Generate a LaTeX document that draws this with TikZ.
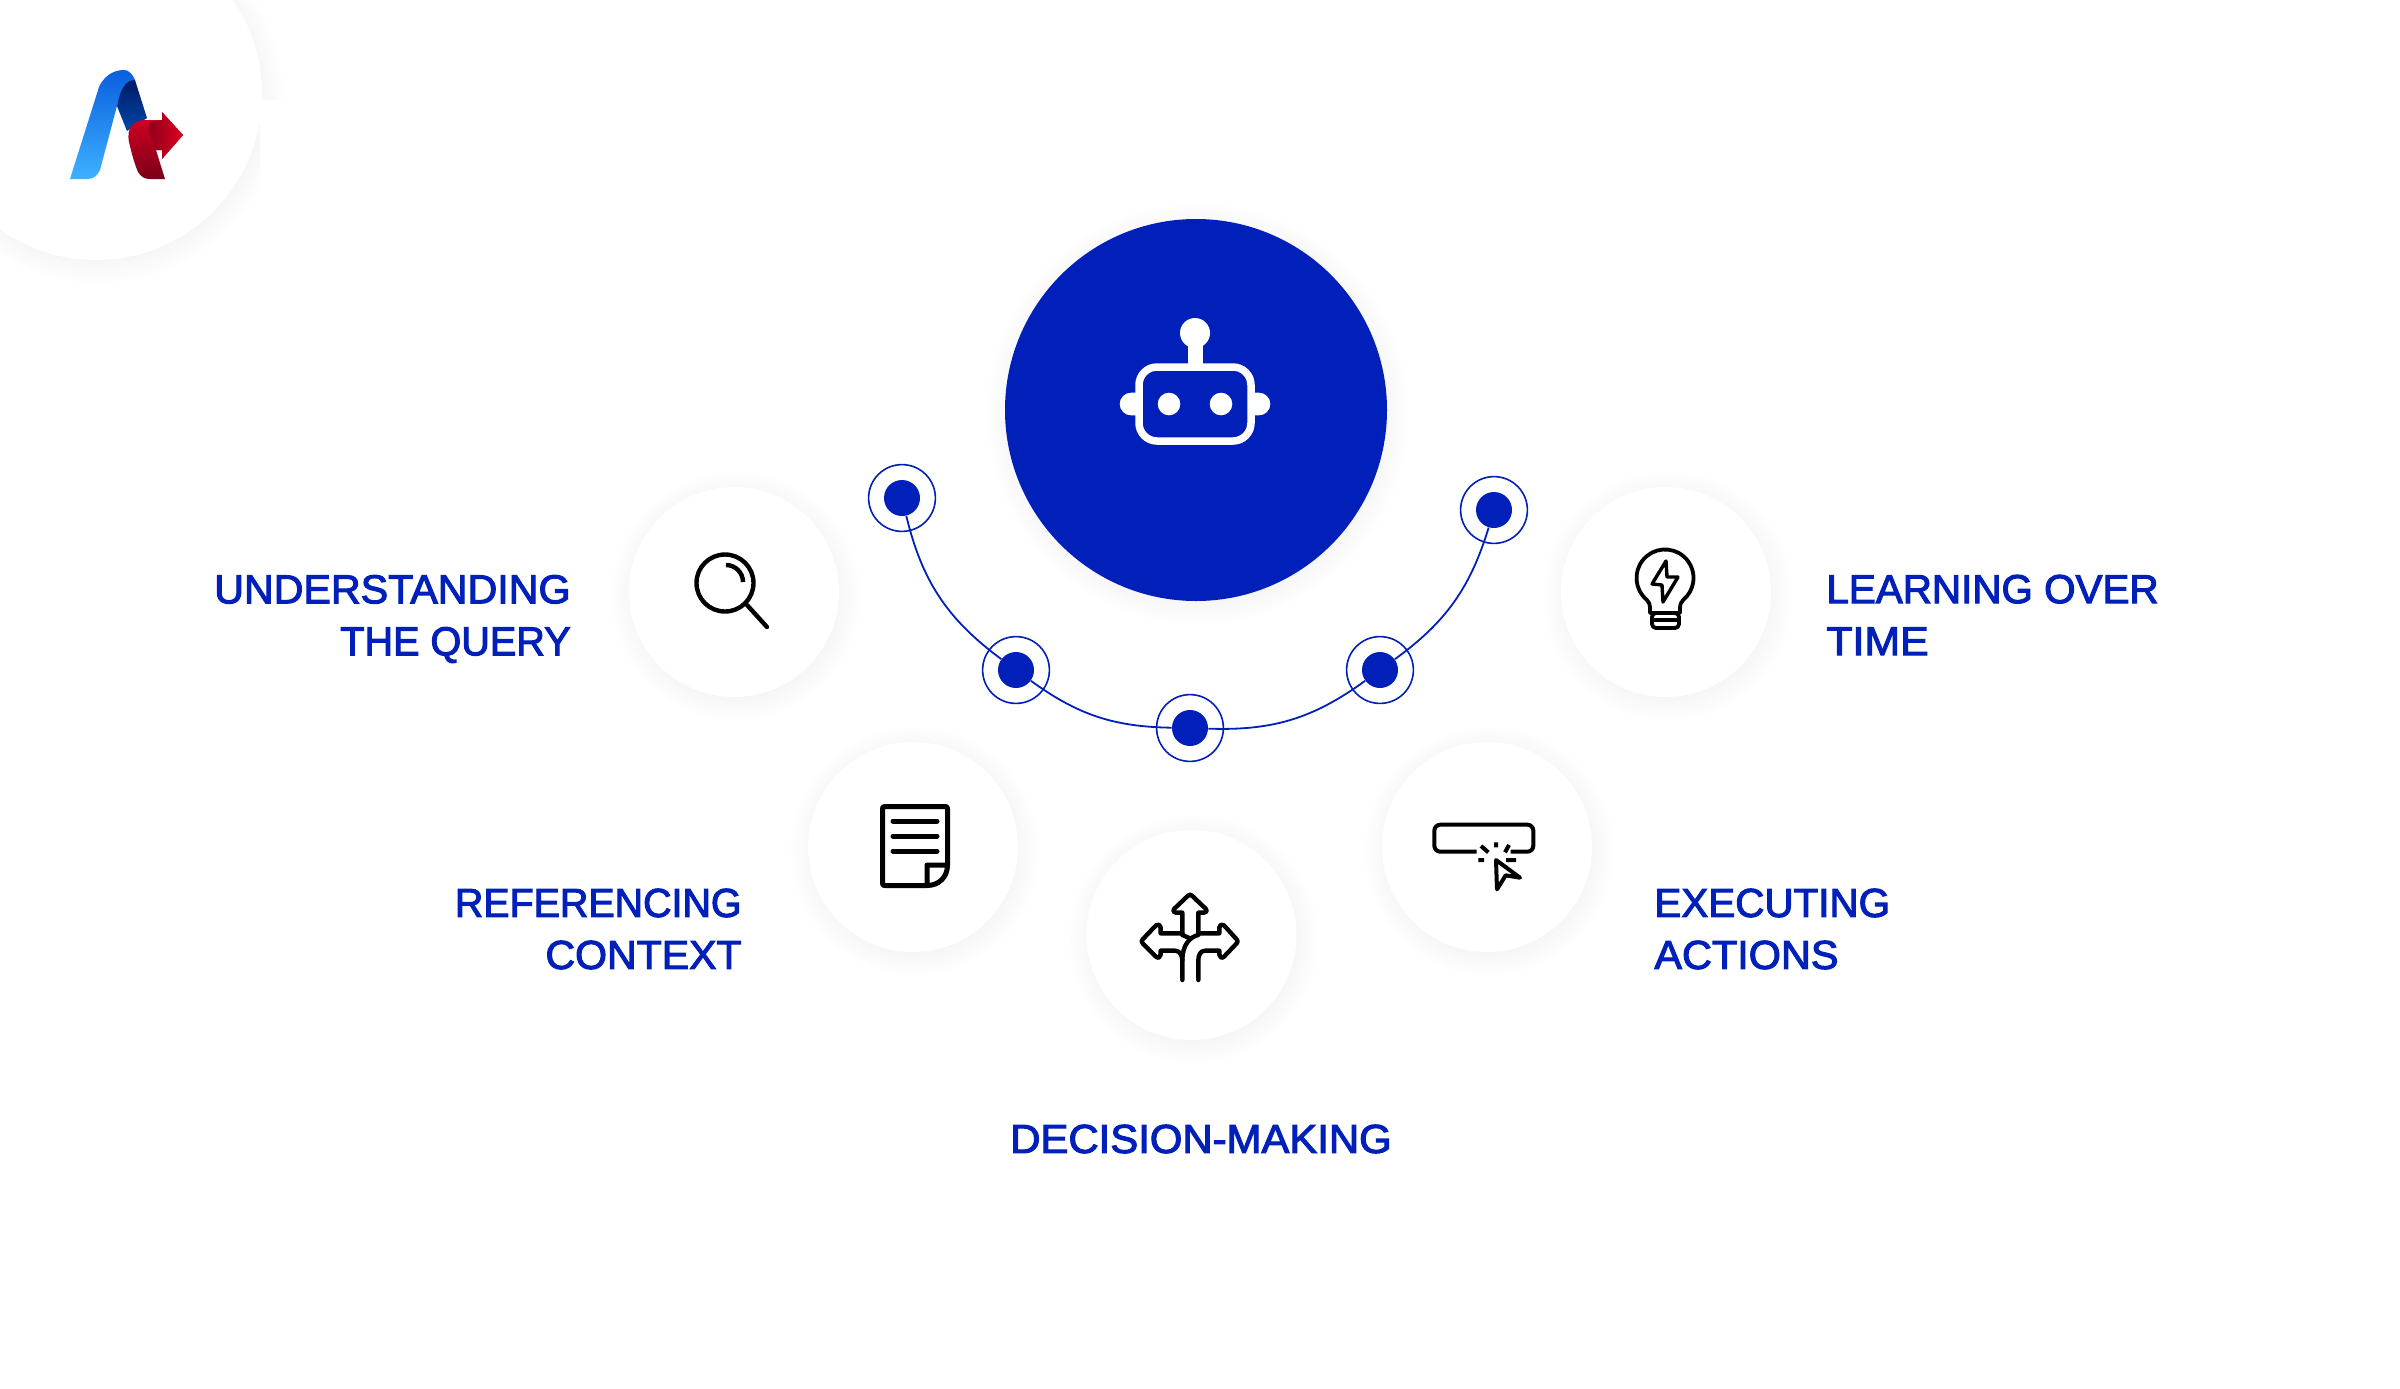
\documentclass[tikz,border=0pt]{standalone}
\usepackage{graphicx}
\usepackage{fontspec}
\setmainfont{Liberation Sans}
\newfontfamily\labelfont[FakeBold=2.6]{Liberation Sans}
\usetikzlibrary{calc}
\definecolor{brandblue}{HTML}{0120B9}
\definecolor{logoA}{HTML}{3DB2FF}
\definecolor{logoB}{HTML}{0A5EDF}
\definecolor{logoC}{HTML}{0047A8}
\definecolor{logoD}{HTML}{001A66}
\definecolor{logoE}{HTML}{7A0018}
\definecolor{logoF}{HTML}{DA0024}
\definecolor{logoG}{HTML}{8A0018}
\definecolor{logoH}{HTML}{E00024}
\tikzset{
  whitedisc/.style={circle,fill=white,minimum size=105pt,inner sep=0pt},
  maindisc/.style={circle,fill=brandblue,minimum size=191pt,inner sep=0pt},
  dotnode/.style={circle,fill=brandblue,minimum size=18pt,inner sep=0pt},
  ringnode/.style={circle,draw=brandblue,line width=0.8pt,minimum size=33.4pt,inner sep=0pt},
  link/.style={draw=brandblue,line width=0.9pt},
  caption/.style={text=brandblue,font=\labelfont\fontsize{20.2}{26}\selectfont,inner sep=0pt},
  icon/.style={draw=black,line width=2.2pt,line cap=round,line join=round},
  thinicon/.style={draw=black,line width=1.9pt,line cap=round,line join=round},
}
% soft shadow: #1 centre, #2 radius
\newcommand{\softshadow}[2]{%
  \foreach \i in {0,...,15}{\fill[black,opacity=0.0055] ($(#1)+(2,4)$) circle ({#2+20-2.8*\i});}%
}
\newcommand{\xs}[2]{\scalebox{#1}[1]{#2}}
\begin{document}
\begin{tikzpicture}[x=0.5pt,y=-0.5pt]
\useasboundingbox (0,0) rectangle (2400,1388);
\fill[white] (0,0) rectangle (2400,1388);
% logo disc shadow with its cut-off edge
\begin{scope}
\clip (0,0) -- (300,0) -- (300,100) -- (260,100) -- (260,400) -- (0,400) -- cycle;
\softshadow{96,94}{166}
\end{scope}
\node[circle,fill=white,minimum size=166pt,inner sep=0pt] (logodisc) at (96,94) {};
% logo
\shade[bottom color=logoA,top color=logoB]
  (70,179) -- (99,87) .. controls (106,72) and (118,70) .. (124,70)
  .. controls (128,70) and (132,73) .. (135,80)
  .. controls (125,82) and (120,95) .. (117,106) -- (100,170) .. controls (97,176) and (93,179) .. (88,179) -- cycle;
\shade[bottom color=logoC,top color=logoD]
  (135,80) -- (147,118) -- (127,131) -- (117,106) .. controls (120,92) and (124,80) .. (135,80) -- cycle;
\shade[bottom color=logoE,top color=logoF]
  (146,120) .. controls (135,120) and (126,126) .. (129,142) .. controls (132,155) and (135,165) .. (138,172)
  .. controls (141,177) and (145,179) .. (150,179) -- (165,179) -- (156,150) -- (162,150) -- (162,159) -- (183,135) -- (162,112) -- (162,120) -- cycle;
\shade[left color=logoG,right color=logoH]
  (150,122) -- (162,120) -- (162,112) -- (183,135) -- (162,159) -- (162,150) -- (156,150) .. controls (150,135) and (147,128) .. (150,122) -- cycle;
% shadows
\softshadow{1196,410}{191}
\softshadow{734,592}{105}
\softshadow{1666,592}{105}
\softshadow{913,847}{105}
\softshadow{1487,847}{105}
\softshadow{1191.5,935}{105}
% discs
\node[maindisc] (agent) at (1196,410) {};
\node[whitedisc] (query) at (734,592) {};
\node[whitedisc] (learn) at (1666,592) {};
\node[whitedisc] (refer) at (913,847) {};
\node[whitedisc] (exec) at (1487,847) {};
\node[whitedisc] (decide) at (1191.5,935) {};
% robot
\draw[white,line width=3.75pt,rounded corners=9pt] (1139,367) rectangle (1251,441);
\fill[white] (1195,333) circle (15);
\fill[white] (1187.5,340) rectangle (1202.5,366);
\fill[white] (1169,404) circle (11.3) (1221,404) circle (11.3);
\fill[white] (1137,392.7) -- (1131,392.7) arc[start angle=270,end angle=90,radius=11.3] -- (1137,415.3) -- cycle;
\fill[white] (1253,392.7) -- (1259,392.7) arc[start angle=-90,end angle=90,radius=11.3] -- (1253,415.3) -- cycle;
% ring dots
\node[ringnode] (r1) at (902,498) {};
\node[ringnode] (r2) at (1016,670) {};
\node[ringnode] (r3) at (1190,728) {};
\node[ringnode] (r4) at (1380,670) {};
\node[ringnode] (r5) at (1494,510) {};
\node[dotnode] (d1) at (902,498) {};
\node[dotnode] (d2) at (1016,670) {};
\node[dotnode] (d3) at (1190,728) {};
\node[dotnode] (d4) at (1380,670) {};
\node[dotnode] (d5) at (1494,510) {};
\draw[link] (d1) to[bend right=20] (d2);
\draw[link] (d2) to[bend right=17.5] (d3);
\draw[link] (d3) to[bend right=19] (d4);
\draw[link] (d4) to[bend right=18.5] (d5);
% magnifier
\draw[icon] (725,583) circle (28.5);
\draw[icon,line cap=butt] (726,565) arc[start angle=-90,end angle=0,radius=17];
\draw[icon] (747,605) -- (767,627);
% bulb
\draw[thinicon] (1650,613) -- (1650,609) .. controls (1650,604) and (1649,602) .. (1646.7,599.8)
  arc[start angle=130,end angle=410,radius=28.5] .. controls (1681,602) and (1680,604) .. (1680,609) -- (1680,613) -- cycle;
\draw[thinicon,rounded corners=2pt] (1652,613) rectangle (1679,628);
\draw[thinicon] (1652,620) -- (1679,620);
\draw[thinicon,line width=1.7pt] (1666,561) -- (1652,584) -- (1662,585) -- (1663,602) -- (1678,577) -- (1667,577) -- cycle;
% document
\draw[icon,line width=2.5pt] (927,885.5) -- (885,885.5) .. controls (883,885.5) and (882.5,885) .. (882.5,883) -- (882.5,809) .. controls (882.5,807) and (883,806.5) .. (885,806.5) -- (945,806.5) .. controls (947,806.5) and (947.5,807) .. (947.5,809) -- (947.5,865) .. controls (947.5,877) and (939,885.5) .. (927,885.5) -- (927,865) -- (947.5,865);
\draw[icon,line width=2.5pt] (893,821) -- (937,821) (893,836) -- (937,836) (893,851) -- (937,851);
% decision arrows
\begin{scope}[shift={(1120,880)},x=0.1666667pt,y=-0.1666667pt]
\draw[icon] (187,162) -- (187,98) -- (168,98) .. controls (160,98) and (157,92) .. (162,87) -- (204,47) .. controls (208,43) and (212,43) .. (216,47) -- (258,87) .. controls (263,92) and (260,98) .. (252,98) -- (235,98) -- (235,162);
\draw[icon] (187,160) -- (122,160) -- (122,142) .. controls (122,134) and (114,131) .. (108,136) -- (68,178) .. controls (64,182) and (64,186) .. (68,190) -- (108,230) .. controls (114,236) and (122,232) .. (122,224) -- (122,212) -- (165,212) .. controls (178,212) and (187,225) .. (187,240) -- (187,300);
\draw[icon] (235,160) -- (298,160) -- (298,142) .. controls (298,134) and (306,131) .. (312,136) -- (350,178) .. controls (354,182) and (354,186) .. (350,190) -- (312,230) .. controls (306,236) and (298,232) .. (298,224) -- (298,212) -- (255,212) .. controls (242,212) and (235,225) .. (235,240) -- (235,300);
\draw[icon] (187,165) -- (208,174);
\draw[icon] (235,165) .. controls (210,170) and (187,195) .. (187,240);
\end{scope}
% click target
\begin{scope}[shift={(1420,810)},x=0.1666667pt,y=-0.1666667pt]
\draw[icon,line width=2pt,line cap=butt,rounded corners=3pt] (170,125) -- (43,125) -- (43,44) -- (340,44) -- (340,125) -- (272,125);
\draw[icon,line width=2pt,line cap=butt] (183,108) -- (205,127) (228,97) -- (228,112) (267,105) -- (255,127) (175,150) -- (192,150) (258,150) -- (288,150);
\draw[icon,line width=2pt] (228,150) -- (300,203) -- (257,196) -- (231,238) -- cycle;
\end{scope}
% labels
\node[caption,anchor=east,align=right] (t1) at (571,619) {\xs{1.02}{UNDERSTANDING}\\\xs{0.98}{THE QUERY}};
\node[caption,anchor=west,align=left] (t2) at (1826,615) {LEARNING OVER\\\xs{1.06}{TIME}};
\node[caption,anchor=east,align=right] (t3) at (742,929) {\xs{0.975}{REFERENCING}\\\xs{1.016}{CONTEXT}};
\node[caption,anchor=west,align=left] (t4) at (1654,929) {EXECUTING\\\xs{1.025}{ACTIONS}};
\node[caption,anchor=center] (t5) at (1201,1139) {\xs{1.036}{DECISION-MAKING}};
\end{tikzpicture}
\end{document}
